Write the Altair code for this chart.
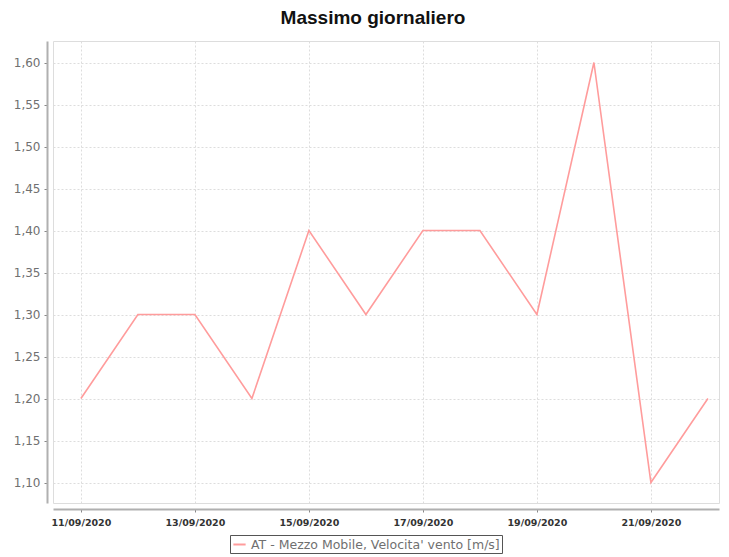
import altair as alt
import pandas as pd

dates = ["2020-09-11", "2020-09-12", "2020-09-13", "2020-09-14", "2020-09-15", "2020-09-16",
         "2020-09-17", "2020-09-18", "2020-09-19", "2020-09-20", "2020-09-21", "2020-09-22"]
values = [1.20, 1.30, 1.30, 1.20, 1.40, 1.30, 1.40, 1.40, 1.30, 1.60, 1.10, 1.20]
series_name = "AT - Mezzo Mobile, Velocita' vento [m/s]"
y_ticks = [1.10, 1.15, 1.20, 1.25, 1.30, 1.35, 1.40, 1.45, 1.50, 1.55, 1.60]
x_tick_days = [11, 13, 15, 17, 19, 21]
title_text = ["Massimo giornaliero"]

df = pd.DataFrame({
    "data": [d + "T00:00:00Z" for d in dates],
    "valore": values,
    "serie": [series_name] * len(values),
})
title_df = pd.DataFrame({"titolo": title_text})

x_domain = [alt.DateTime(year=2020, month=9, date=10, hours=12, minutes=15, utc=True),
            alt.DateTime(year=2020, month=9, date=22, hours=4, minutes=40, utc=True)]
x_vals = [alt.DateTime(year=2020, month=9, date=d, utc=True) for d in x_tick_days]

line = alt.Chart(df).mark_line(strokeWidth=1.6).encode(
    x=alt.X("data:T",
            scale=alt.Scale(type="utc", domain=x_domain, nice=False),
            axis=alt.Axis(values=x_vals, labelExpr="utcFormat(datum.value, '%d/%m/%Y')",
                          title=None, offset=6, grid=True, gridColor="#dddddd",
                          gridDash=[2, 2], domainColor="#b0b0b0", domainWidth=2,
                          tickColor="#888888", tickSize=3, labelFont="DejaVu Sans",
                          labelFontSize=9.5, labelFontWeight="bold", labelColor="#333333",
                          labelPadding=5, labelFlush=False)),
    y=alt.Y("valore:Q",
            scale=alt.Scale(domain=[1.0756, 1.6256], nice=False, zero=False),
            axis=alt.Axis(values=y_ticks,
                          labelExpr="replace(format(datum.value, '.2f'), '.', ',')",
                          title=None, offset=6, grid=True, gridColor="#dddddd",
                          gridDash=[2, 2], domainColor="#b0b0b0", domainWidth=2,
                          tickColor="#888888", tickSize=3, labelFont="DejaVu Sans",
                          labelFontSize=12, labelColor="#707070", labelPadding=4)),
    color=alt.Color("serie:N", scale=alt.Scale(range=["#ff9c9c"]),
                    legend=alt.Legend(title=None, orient="none", legendX=177, legendY=494,
                                      strokeColor="#555555", padding=2,
                                      symbolType="stroke", symbolStrokeWidth=2,
                                      symbolSize=150, labelFont="DejaVu Sans",
                                      labelFontSize=12.5, labelColor="#707070",
                                      labelOffset=4, labelLimit=400)),
)

title = alt.Chart(title_df).mark_text(
    font="Liberation Sans", fontSize=19, fontWeight="bold", color="#111111",
    align="center", baseline="alphabetic"
).encode(
    x=alt.value(320), y=alt.value(-17), text="titolo:N"
)

chart = alt.layer(line, title).properties(
    width=666,
    height=462,
    autosize=alt.AutoSizeParams(type="none"),
    padding={"left": 45, "top": 33, "right": 2, "bottom": 52},
).configure_view(
    stroke="#aaaaaa", strokeWidth=2
).configure(background="white")

chart.save("out.html", embed_options={"renderer": "svg", "actions": False})
